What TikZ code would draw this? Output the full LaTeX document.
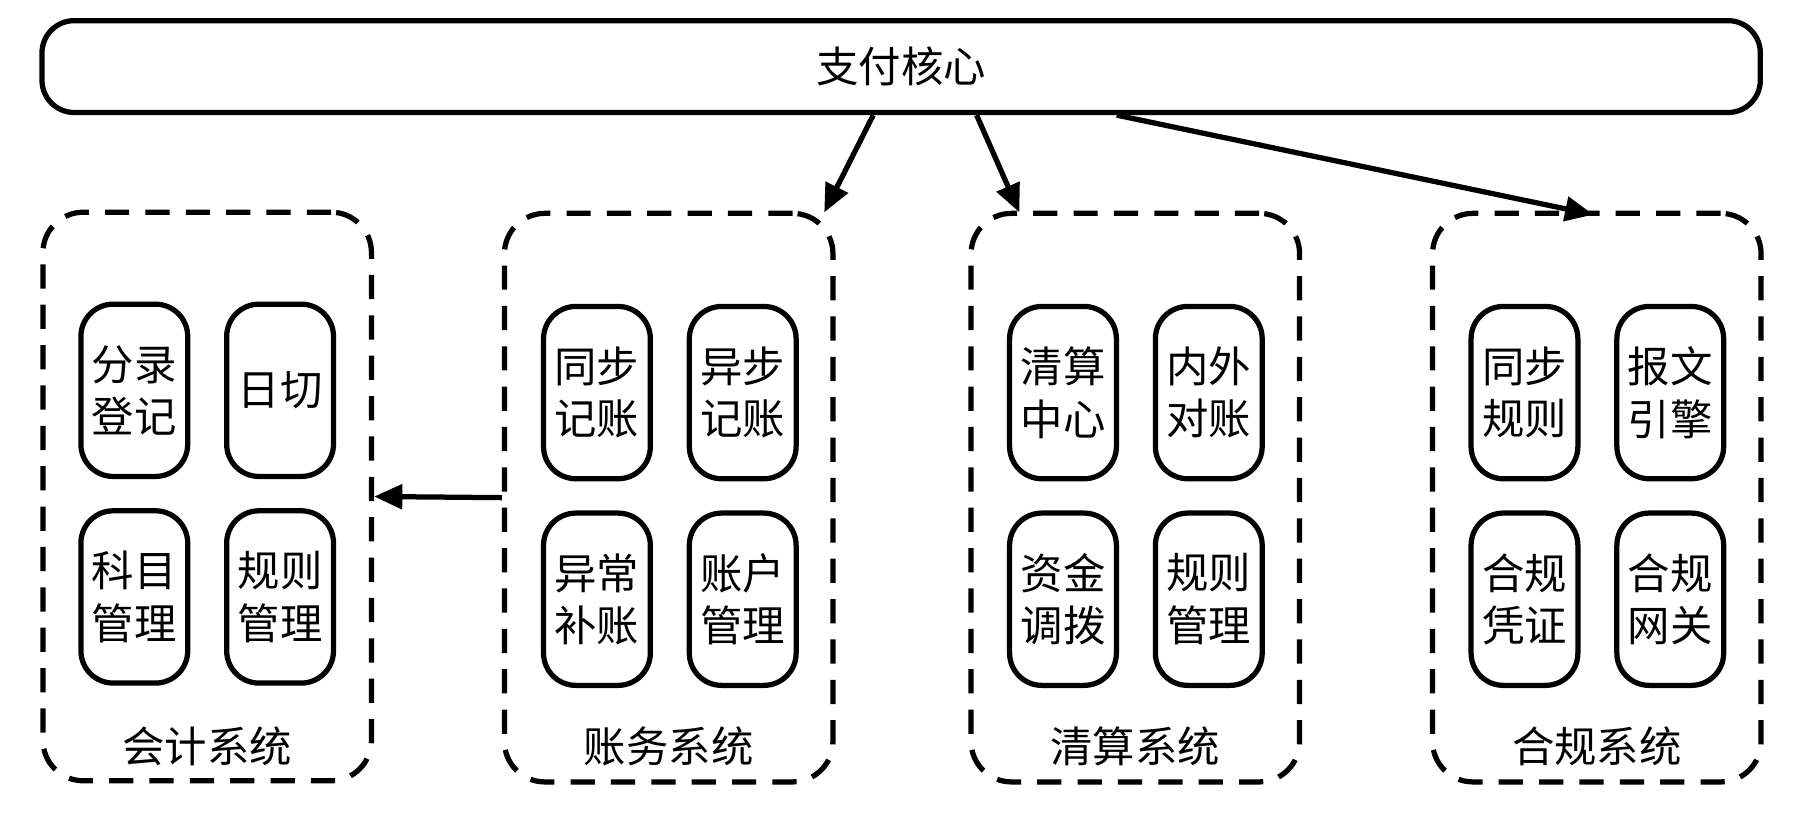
\documentclass[tikz,border=0pt]{standalone}
\usepackage{fontspec}
\setmainfont{Noto Sans CJK SC}
\usetikzlibrary{arrows.meta}
\begin{document}
\begin{tikzpicture}[
        x = 0.01cm, y = -0.01cm,
        every node/.style = {font = \fontsize{10.5pt}{13pt}\selectfont},
        core/.style = {draw, line width = 1.3pt, rounded corners = 8pt, minimum width = 14.96cm, minimum height = 0.8cm},
        group/.style = {draw, line width = 1.3pt, dashed, dash pattern = on 6pt off 4pt, rounded corners = 10pt, minimum width = 2.86cm, minimum height = 4.95cm},
        item/.style = {draw, line width = 1.3pt, rounded corners = 8pt, minimum width = 0.93cm, minimum height = 1.5cm, align = center, inner sep = 1pt},
        arr/.style = {-{Triangle[length = 7pt, width = 6pt]}, line width = 1.3pt}
      ]
      \useasboundingbox (0, 0) rectangle (1568, 712);
      % core
      \node[core] (core) at (785, 58) {支付核心};
      % groups
      \node[group] (acct)  at (180.5, 432.5) {};
      \node[group] (ledg)  at (582.5, 433.5) {};
      \node[group] (clear) at (989, 433.5) {};
      \node[group] (comp)  at (1391, 433.5) {};
      \node (acct-t)  at (180.5, 650) {会计系统};
      \node (ledg-t)  at (582.5, 650) {账务系统};
      \node (clear-t) at (989, 650) {清算系统};
      \node (comp-t)  at (1391, 650) {合规系统};
      % items of 会计系统
      \node[item] (a1) at (117, 340) {分录\\登记};
      \node[item] (a2) at (244, 340) {日切};
      \node[item] (a3) at (117, 520) {科目\\管理};
      \node[item] (a4) at (244, 520) {规则\\管理};
      % items of 账务系统
      \node[item] (b1) at (520, 342) {同步\\记账};
      \node[item] (b2) at (647, 342) {异步\\记账};
      \node[item] (b3) at (520, 522) {异常\\补账};
      \node[item] (b4) at (647, 522) {账户\\管理};
      % items of 清算系统
      \node[item] (c1) at (926, 342) {清算\\中心};
      \node[item] (c2) at (1053, 342) {内外\\对账};
      \node[item] (c3) at (926, 522) {资金\\调拨};
      \node[item] (c4) at (1053, 522) {规则\\管理};
      % items of 合规系统
      \node[item] (d1) at (1328, 342) {同步\\规则};
      \node[item] (d2) at (1455, 342) {报文\\引擎};
      \node[item] (d3) at (1328, 522) {合规\\凭证};
      \node[item] (d4) at (1455, 522) {合规\\网关};
      % arrows
      \coordinate (to-ledg)  at (718, 185);
      \coordinate (to-clear) at (888, 185);
      \coordinate (to-comp)  at (1388, 187);
      \draw[arr] ([xshift = 7.26cm]core.south west) -- (to-ledg);
      \draw[arr] ([xshift = 8.16cm]core.south west) -- (to-clear);
      \draw[arr] ([xshift = 9.38cm]core.south west) -- (to-comp);
      \draw[arr] (ledg.west) -- (acct.east);
    \end{tikzpicture}
\end{document}
